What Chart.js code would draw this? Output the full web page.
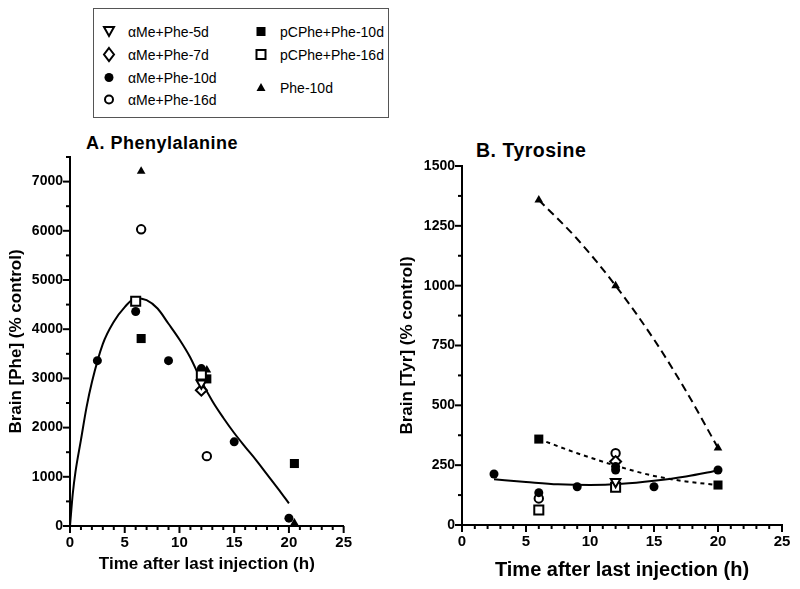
<!DOCTYPE html>
<html>
<head>
<meta charset="utf-8">
<script src="https://cdn.jsdelivr.net/npm/chart.js@4.4.0/dist/chart.umd.min.js"></script>
<style>
  body { margin: 0; background: #fff; width: 800px; height: 589px; position: relative; overflow: hidden;
         font-family: "Liberation Sans", Arial, sans-serif; color: #000; }
  canvas { position: absolute; }
  #legendBox { position: absolute; left: 93px; top: 8px; width: 296px; height: 110px; border: 1px solid #555; box-sizing: border-box; }
  .item { position: absolute; font-size: 14px; line-height: 16px; white-space: nowrap; }
  .item svg { position: absolute; left: -28px; top: -1px; overflow: visible; }
  .ptitle { position: absolute; font-weight: bold; white-space: nowrap; line-height: 22px; }
</style>
</head>
<body>
<div id="legendBox"></div>
<div class="item" style="left:128px; top:24px;"><svg width="18" height="18"><polygon points="4,4 14,4 9,13" fill="#fff" stroke="#000" stroke-width="2"/></svg>αMe+Phe-5d</div>
<div class="item" style="left:128px; top:47px;"><svg width="18" height="18"><polygon points="9,2 14,8.5 9,15 4,8.5" fill="#fff" stroke="#000" stroke-width="2"/></svg>αMe+Phe-7d</div>
<div class="item" style="left:128px; top:70px;"><svg width="18" height="18"><circle cx="9" cy="8.5" r="4.5" fill="#000"/></svg>αMe+Phe-10d</div>
<div class="item" style="left:128px; top:92px;"><svg width="18" height="18"><circle cx="9" cy="8.5" r="4" fill="#fff" stroke="#000" stroke-width="2"/></svg>αMe+Phe-16d</div>
<div class="item" style="left:280px; top:24px;"><svg width="18" height="18"><rect x="4.5" y="4" width="9" height="9" fill="#000"/></svg>pCPhe+Phe-10d</div>
<div class="item" style="left:280px; top:47px;"><svg width="18" height="18"><rect x="4.5" y="4" width="9" height="9" fill="#fff" stroke="#000" stroke-width="2"/></svg>pCPhe+Phe-16d</div>
<div class="item" style="left:280px; top:80px;"><svg width="18" height="18"><polygon points="9,4 13.5,12 4.5,12" fill="#000"/></svg>Phe-10d</div>

<div class="ptitle" style="left:86px; top:132px; font-size:18px; letter-spacing:0.5px;">A. Phenylalanine</div>
<div class="ptitle" style="left:476px; top:139px; font-size:19.5px; letter-spacing:0.5px;">B. Tyrosine</div>

<canvas id="chartA" width="360" height="469" style="left:0; top:120px;"></canvas>
<canvas id="chartB" width="405" height="469" style="left:395px; top:120px;"></canvas>

<script>
// ---------- shared axis ticks ----------
const timeTicks = [0, 5, 10, 15, 20, 25];

// ---------- Panel A: brain phenylalanine (% control) ----------
const pheTicks = [0, 1000, 2000, 3000, 4000, 5000, 6000, 7000];
const pheA_aMe5_x = [12];
const pheA_aMe5_y = [2900];
const pheA_aMe7_x = [12];
const pheA_aMe7_y = [2760];
const pheA_aMe10_x = [2.5, 6, 9, 12, 15, 20];
const pheA_aMe10_y = [3360, 4360, 3360, 3200, 1710, 160];
const pheA_aMe16_x = [6.5, 12.5];
const pheA_aMe16_y = [6030, 1420];
const pheA_pC10_x = [6.5, 12.5, 20.5];
const pheA_pC10_y = [3810, 2990, 1270];
const pheA_pC16_x = [6, 12];
const pheA_pC16_y = [4570, 3070];
const pheA_phe10_x = [6.5, 12.5, 20.5];
const pheA_phe10_y = [7210, 3170, 60];
// fitted curve
const pheA_fit_x = [0, 0.25, 0.5, 1, 1.5, 2, 3, 4, 5, 6, 7, 8, 9, 10, 11, 12, 13, 14, 15, 16, 17, 18, 19, 20];
const pheA_fit_y = [0, 650, 1100, 1750, 2400, 2920, 3700, 4150, 4450, 4630, 4590, 4420, 4110, 3790, 3420, 2950, 2540, 2200, 1890, 1610, 1340, 1050, 760, 460];

// ---------- Panel B: brain tyrosine (% control) ----------
const tyrTicks = [0, 250, 500, 750, 1000, 1250, 1500];
const tyrB_aMe5_x = [12];
const tyrB_aMe5_y = [181];
const tyrB_aMe7_x = [12];
const tyrB_aMe7_y = [265];
const tyrB_aMe10_x = [2.5, 6, 9, 12, 12, 15, 20];
const tyrB_aMe10_y = [213, 135, 160, 244, 230, 160, 230];
const tyrB_aMe16_x = [6, 12];
const tyrB_aMe16_y = [111, 300];
const tyrB_pC10_x = [6, 20];
const tyrB_pC10_y = [359, 167];
const tyrB_pC16_x = [6, 12];
const tyrB_pC16_y = [63, 158];
const tyrB_phe10_x = [6, 12, 20];
const tyrB_phe10_y = [1358, 1000, 322];
// fitted curves
const tyrB_fitPhe_x = [6, 9, 12, 15, 17.5, 20];
const tyrB_fitPhe_y = [1358, 1195, 1000, 775, 560, 322];
const tyrB_fitPC_x = [6, 9, 12, 15, 17.5, 20];
const tyrB_fitPC_y = [359, 300, 248, 205, 182, 167];
const tyrB_fitAMe_x = [2.5, 5, 7.5, 10, 12.5, 15, 17.5, 20];
const tyrB_fitAMe_y = [191, 180, 170, 167, 172, 185, 203, 228];

const pts = (xs, ys) => xs.map((x, i) => ({ x: x, y: ys[i] }));

Chart.defaults.font.family = '"Liberation Sans", Arial, sans-serif';
Chart.defaults.color = '#000';

// marker styles for each group
const marker = {
    aMe5:  { pointStyle: 'triangle', rotation: 180, pointRadius: 5.5, pointBackgroundColor: '#fff', pointBorderWidth: 2 },
    aMe7:  { pointStyle: 'rectRot', rotation: 0, pointRadius: 5.5, pointBackgroundColor: '#fff', pointBorderWidth: 2 },
    aMe10: { pointStyle: 'circle', rotation: 0, pointRadius: 4.5, pointBackgroundColor: '#000', pointBorderWidth: 0 },
    aMe16: { pointStyle: 'circle', rotation: 0, pointRadius: 4.2, pointBackgroundColor: '#fff', pointBorderWidth: 2 },
    pC10:  { pointStyle: 'rect', rotation: 0, pointRadius: 6.4, pointBackgroundColor: '#000', pointBorderWidth: 0 },
    pC16:  { pointStyle: 'rect', rotation: 0, pointRadius: 6.4, pointBackgroundColor: '#fff', pointBorderWidth: 2 },
    phe10: { pointStyle: 'triangle', rotation: 0, pointRadius: 5, pointBackgroundColor: '#000', pointBorderWidth: 0 }
};

function scatterSet(label, xs, ys, key) {
    return Object.assign({
        type: 'scatter',
        label: label,
        data: pts(xs, ys),
        pointBorderColor: '#000',
        showLine: false,
        clip: false
    }, marker[key]);
}

function fitSet(xs, ys, dash) {
    return {
        type: 'line',
        data: pts(xs, ys),
        borderColor: '#000',
        borderWidth: 2,
        borderDash: dash,
        pointRadius: 0,
        fill: false,
        cubicInterpolationMode: 'monotone',
        clip: false
    };
}

// tick marks on both axes: long at labelled values, short in between
const axisTicks = {
    id: 'axisTicks',
    afterDraw(chart, args, opts) {
        const { ctx, scales: { x, y } } = chart;
        ctx.save();
        ctx.strokeStyle = '#000';
        ctx.lineWidth = 2;
        for (let v = x.min; v <= x.max + 1e-9; v += opts.xStep) {
            const px = x.getPixelForValue(v);
            const len = v % 5 === 0 ? 7 : 4;
            ctx.beginPath();
            ctx.moveTo(px, x.top);
            ctx.lineTo(px, x.top + len);
            ctx.stroke();
        }
        for (let v = y.min; v <= y.max + 1e-9; v += opts.yStep) {
            const py = y.getPixelForValue(v);
            const len = v % opts.yMajorStep === 0 ? 7 : 4;
            ctx.beginPath();
            ctx.moveTo(y.right, py);
            ctx.lineTo(y.right - len, py);
            ctx.stroke();
        }
        ctx.restore();
    }
};

function axes(cfg) {
    return {
        x: {
            type: 'linear', min: 0, max: 25,
            afterBuildTicks: (s) => { s.ticks = timeTicks.map(v => ({ value: v })); },
            ticks: { padding: 8, font: { size: 15, weight: 'bold' }, color: '#000', callback: v => String(v) },
            grid: { display: false, drawTicks: false },
            border: { display: true, color: '#000', width: 2 },
            title: { display: true, text: 'Time after last injection (h)', color: '#000',
                     font: { size: cfg.xTitleSize, weight: 'bold' }, padding: { top: 0, bottom: cfg.xTitlePad } },
            afterFit: (s) => { s.height = cfg.xHeight; }
        },
        y: {
            type: 'linear', min: 0, max: cfg.yMax,
            afterBuildTicks: (s) => { s.ticks = cfg.yTicks.map(v => ({ value: v })); },
            ticks: { padding: 7, font: { size: 14, weight: 'bold' }, color: '#000', callback: v => String(v) },
            grid: { display: false, drawTicks: false },
            border: { display: true, color: '#000', width: 2 },
            title: { display: true, text: cfg.yTitle, color: '#000',
                     font: { size: 17, weight: 'bold' }, padding: { top: cfg.yTitlePad, bottom: 0 } },
            afterFit: (s) => { s.width = cfg.yWidth; }
        }
    };
}

// ========================= Panel A ========================= //
new Chart(document.getElementById('chartA'), {
    type: 'scatter',
    data: {
        datasets: [
            scatterSet('αMe+Phe-5d', pheA_aMe5_x, pheA_aMe5_y, 'aMe5'),
            scatterSet('αMe+Phe-7d', pheA_aMe7_x, pheA_aMe7_y, 'aMe7'),
            scatterSet('pCPhe+Phe-16d', pheA_pC16_x, pheA_pC16_y, 'pC16'),
            scatterSet('αMe+Phe-10d', pheA_aMe10_x, pheA_aMe10_y, 'aMe10'),
            scatterSet('αMe+Phe-16d', pheA_aMe16_x, pheA_aMe16_y, 'aMe16'),
            scatterSet('pCPhe+Phe-10d', pheA_pC10_x, pheA_pC10_y, 'pC10'),
            scatterSet('Phe-10d', pheA_phe10_x, pheA_phe10_y, 'phe10'),
            fitSet(pheA_fit_x, pheA_fit_y, [])
        ]
    },
    options: {
        responsive: false,
        animation: false,
        layout: { padding: { top: 37, right: 15, bottom: 0, left: 0 } },
        plugins: { legend: { display: false }, tooltip: { enabled: false },
                   axisTicks: { xStep: 1, yStep: 500, yMajorStep: 1000 } },
        scales: axes({ yMax: 7500, yTicks: pheTicks, yTitle: 'Brain [Phe] (% control)', yWidth: 70, yTitlePad: 6,
                       xHeight: 63, xTitleSize: 17, xTitlePad: 14 })
    },
    plugins: [axisTicks]
});

// ========================= Panel B ========================= //
new Chart(document.getElementById('chartB'), {
    type: 'scatter',
    data: {
        datasets: [
            scatterSet('αMe+Phe-5d', tyrB_aMe5_x, tyrB_aMe5_y, 'aMe5'),
            scatterSet('pCPhe+Phe-16d', tyrB_pC16_x, tyrB_pC16_y, 'pC16'),
            scatterSet('αMe+Phe-10d', tyrB_aMe10_x, tyrB_aMe10_y, 'aMe10'),
            scatterSet('αMe+Phe-7d', tyrB_aMe7_x, tyrB_aMe7_y, 'aMe7'),
            scatterSet('αMe+Phe-16d', tyrB_aMe16_x, tyrB_aMe16_y, 'aMe16'),
            scatterSet('pCPhe+Phe-10d', tyrB_pC10_x, tyrB_pC10_y, 'pC10'),
            scatterSet('Phe-10d', tyrB_phe10_x, tyrB_phe10_y, 'phe10'),
            fitSet(tyrB_fitAMe_x, tyrB_fitAMe_y, []),
            fitSet(tyrB_fitPC_x, tyrB_fitPC_y, [4, 4]),
            fitSet(tyrB_fitPhe_x, tyrB_fitPhe_y, [8, 5])
        ]
    },
    options: {
        responsive: false,
        animation: false,
        layout: { padding: { top: 46, right: 18, bottom: 0, left: 0 } },
        plugins: { legend: { display: false }, tooltip: { enabled: false },
                   axisTicks: { xStep: 1, yStep: 125, yMajorStep: 250 } },
        scales: axes({ yMax: 1500, yTicks: tyrTicks, yTitle: 'Brain [Tyr] (% control)', yWidth: 67, yTitlePad: 2,
                       xHeight: 64, xTitleSize: 20, xTitlePad: 7 })
    },
    plugins: [axisTicks]
});
</script>
</body>
</html>
